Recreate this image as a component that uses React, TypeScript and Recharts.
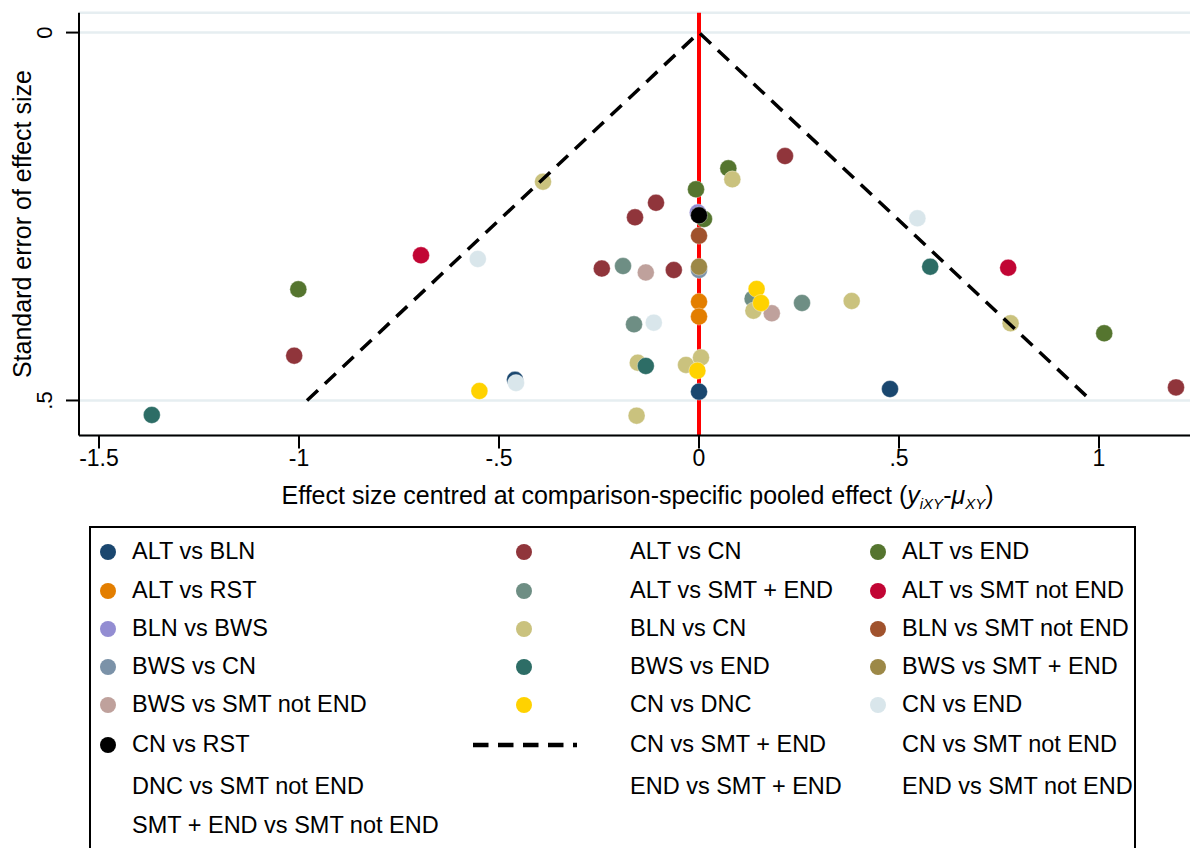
import React from 'react';
import { ScatterChart, Scatter, XAxis, YAxis, CartesianGrid, ReferenceLine } from 'recharts';

// ---------- data ----------
const comparisons = [
  'ALT vs BLN', 'ALT vs CN', 'ALT vs END',
  'ALT vs RST', 'ALT vs SMT + END', 'ALT vs SMT not END',
  'BLN vs BWS', 'BLN vs CN', 'BLN vs SMT not END',
  'BWS vs CN', 'BWS vs END', 'BWS vs SMT + END',
  'BWS vs SMT not END', 'CN vs DNC', 'CN vs END',
  'CN vs RST', 'CN vs SMT + END', 'CN vs SMT not END',
  'DNC vs SMT not END', 'END vs SMT + END', 'END vs SMT not END',
  'SMT + END vs SMT not END',
];

// [effect size centred, standard error]
const altVsBln: [number, number][] = [[0.4775, 0.4844], [0, 0.488], [-0.46, 0.472]];
const altVsCn: [number, number][] = [[0.215, 0.1678], [-0.1075, 0.2313], [-0.16, 0.2511], [-0.243, 0.3207], [-0.063, 0.3227], [-1.012, 0.4391], [1.1925, 0.4822]];
const altVsEnd: [number, number][] = [[-1.0017, 0.3489], [0.0733, 0.1845], [-0.0075, 0.213], [0.0125, 0.2534], [1.013, 0.4087]];
const altVsRst: [number, number][] = [[0, 0.3658], [0, 0.386]];
const altVsSmtEnd: [number, number][] = [[-0.19, 0.3173], [-0.1625, 0.3965], [0.134, 0.3617], [0.2575, 0.3675]];
const altVsSmtNotEnd: [number, number][] = [[-0.695, 0.3027], [0.773, 0.3196]];
const blnVsBws: [number, number][] = [[-0.003, 0.2445]];
const blnVsCn: [number, number][] = [[-0.39, 0.2027], [0.0833, 0.1995], [0.136, 0.378], [0.3817, 0.3648], [0.779, 0.3951], [-0.153, 0.4486], [-0.0325, 0.4517], [0.005, 0.4417], [-0.156, 0.5206]];
const blnVsSmtNotEnd: [number, number][] = [[0, 0.2761]];
const bwsVsCn: [number, number][] = [[0, 0.3227]];
const bwsVsEnd: [number, number][] = [[-1.368, 0.5197], [-0.133, 0.4531], [0.578, 0.3182]];
const bwsVsSmtEnd: [number, number][] = [[0, 0.3182]];
const bwsVsSmtNotEnd: [number, number][] = [[-0.133, 0.326], [0.182, 0.3815]];
const cnVsDnc: [number, number][] = [[-0.549, 0.4871], [-0.004, 0.4595], [0.144, 0.3485], [0.155, 0.3675]];
const cnVsEnd: [number, number][] = [[0.546, 0.2524], [-0.553, 0.3077], [-0.113, 0.3942], [-0.4575, 0.4762]];
const cnVsRst: [number, number][] = [[0, 0.2484]];

const seriesPoints = [
  altVsBln, altVsCn, altVsEnd, altVsRst, altVsSmtEnd, altVsSmtNotEnd,
  blnVsBws, blnVsCn, blnVsSmtNotEnd, bwsVsCn, bwsVsEnd, bwsVsSmtEnd,
  bwsVsSmtNotEnd, cnVsDnc, cnVsEnd, cnVsRst,
];

// pseudo 95% confidence limits (funnel)
const funnelEffect = [-0.98, 0, 0.98];
const funnelSE = [0.5, 0, 0.5];

const xTicks = [-1.5, -1, -0.5, 0, 0.5, 1];
const yTicks = [0, 0.5];

// ---------- styles ----------
const seriesColors = [
  '#1a476f', '#90353b', '#55752f', '#e37e00', '#6e8e84', '#c10534',
  '#938dd2', '#cac27e', '#a0522d', '#7b92a8', '#2d6d66', '#9c8847',
  '#bfa19c', '#ffd200', '#d9e6eb', '#000000',
];
const FONT = '"Liberation Sans", Arial, Helvetica, sans-serif';
const legendRowCenters = [552, 591, 629, 667, 705, 745, 787, 826];
const legendMarkerX = [108, 524, 878];
const legendTextX = [132, 630, 902];

const fmt = (v: number) => {
  if (v === 0) return '0';
  const s = String(Math.abs(v)).replace(/^0/, '');
  return (v < 0 ? '-' : '') + s;
};

const YTick = (props: any) => {
  const { x, y, payload } = props;
  return (
    <text x={x} y={y} transform={`rotate(-90 ${x} ${y})`} textAnchor="middle"
      fontSize={22} fill="#000" fontFamily={FONT}>{fmt(payload.value)}</text>
  );
};

const XTick = (props: any) => {
  const { x, y, payload } = props;
  return (
    <text x={x} y={y + 17} textAnchor="middle" fontSize={23} fill="#000" fontFamily={FONT}>
      {fmt(payload.value)}
    </text>
  );
};

const YTitle = (props: any) => {
  const vb = props && props.viewBox ? props.viewBox : { x: 0, y: 12.7, width: 79, height: 422.8 };
  const cx = vb.x + 31.5;
  const cy = vb.y + vb.height / 2;
  return (
    <text x={cx} y={cy} transform={`rotate(-90 ${cx} ${cy})`} textAnchor="middle"
      fontSize={25} fill="#000" fontFamily={FONT}>Standard error of effect size</text>
  );
};

const XTitle = (props: any) => {
  const vb = props && props.viewBox ? props.viewBox : { x: 79, y: 435.5, width: 1111, height: 84.5 };
  const cx = vb.x + vb.width / 2 + 3;
  const cy = vb.y + 68;
  return (
    <text x={cx} y={cy} textAnchor="middle" fontSize={25} fill="#000" fontFamily={FONT}>
      Effect size centred at comparison-specific pooled effect (
      <tspan fontStyle="italic">y</tspan>
      <tspan fontStyle="italic" fontSize={15} dy={5}>iXY</tspan>
      <tspan dy={-5}>-</tspan>
      <tspan fontStyle="italic">μ</tspan>
      <tspan fontStyle="italic" fontSize={15} dy={5}>XY</tspan>
      <tspan dy={-5}>)</tspan>
    </text>
  );
};

const makeDot = (color: string) => (p: any) => (
  <circle cx={p.cx} cy={p.cy} r={8.5} fill={color} stroke="#ffffff" strokeOpacity={0.45} strokeWidth={0.8} />
);

export default function App() {
  const funnelData = funnelEffect.map((x, i) => ({ x, y: funnelSE[i] }));
  return (
    <div style={{ position: 'absolute', left: 0, top: 0, width: 1192, height: 848, background: '#fff', overflow: 'hidden', fontFamily: FONT }}>
      <ScatterChart width={1192} height={520} margin={{ top: 12.7, right: 2, left: 0, bottom: 0 }}>
        <CartesianGrid vertical={false} stroke="#e6eef1" strokeWidth={2.5} />
        <XAxis type="number" dataKey="x" domain={[-1.55, 1.2275]} ticks={xTicks} allowDataOverflow
          height={84.5} tickSize={13} tickMargin={0}
          axisLine={{ stroke: '#000', strokeWidth: 2 }} tickLine={{ stroke: '#000', strokeWidth: 2 }}
          tick={<XTick />} label={XTitle} interval={0} />
        <YAxis type="number" dataKey="y" reversed domain={[-0.027, 0.5476]} ticks={yTicks} allowDataOverflow
          width={79} tickSize={13} tickMargin={14}
          axisLine={{ stroke: '#000', strokeWidth: 2 }} tickLine={{ stroke: '#000', strokeWidth: 2 }}
          tick={<YTick />} label={YTitle} interval={0} />
        <ReferenceLine x={0} stroke="#ff0000" strokeWidth={4} />
        {seriesPoints.map((pts, i) => (
          <Scatter key={comparisons[i]} name={comparisons[i]}
            data={pts.map(([x, y]) => ({ x, y }))}
            fill={seriesColors[i]} shape={makeDot(seriesColors[i])} isAnimationActive={false} />
        ))}
        <Scatter name="funnel" data={funnelData} isAnimationActive={false}
          line={{ stroke: '#000', strokeWidth: 3.5, strokeDasharray: '15 9.5' }}
          shape={() => <g />} fill="none" />
      </ScatterChart>

      <div style={{ position: 'absolute', left: 89, top: 526, width: 1047, height: 340, border: '2px solid #000', boxSizing: 'border-box' }} />
      {comparisons.map((name, i) => {
        const row = Math.floor(i / 3);
        const col = i % 3;
        const cy = legendRowCenters[row];
        const fs = 23.5;
        return (
          <React.Fragment key={name}>
            {i < seriesColors.length && (
              <svg style={{ position: 'absolute', left: legendMarkerX[col] - 9, top: cy - 9 }} width={18} height={18}>
                <circle cx={9} cy={9} r={8} fill={seriesColors[i]} />
              </svg>
            )}
            {i === seriesColors.length && (
              <svg style={{ position: 'absolute', left: 473, top: cy - 4 }} width={106} height={8}>
                <line x1={0} y1={4} x2={104} y2={4} stroke="#000" strokeWidth={4.5} strokeDasharray="15.5 9.5" />
              </svg>
            )}
            <span style={{ position: 'absolute', left: legendTextX[col], top: cy - fs / 2, fontSize: fs, lineHeight: 1, color: '#000', whiteSpace: 'nowrap' }}>
              {name}
            </span>
          </React.Fragment>
        );
      })}
    </div>
  );
}
